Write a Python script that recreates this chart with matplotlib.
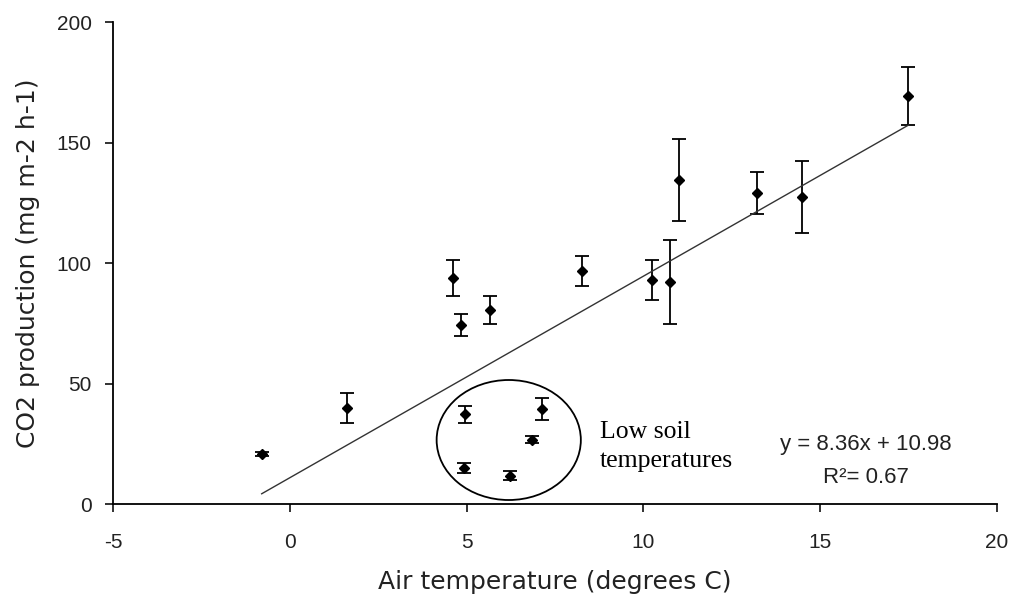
import numpy as np
import matplotlib
matplotlib.use('Agg')
import matplotlib.pyplot as plt
from matplotlib.patches import Ellipse

# Air temperature (degrees C), CO2 production and its error
air_temp = [-0.8, 1.6, 4.6, 4.85, 5.65, 8.25, 10.25, 10.75, 11.0, 13.2, 14.5, 17.5,
            4.95, 4.93, 6.23, 6.85, 7.12]
co2 = [20.8, 39.7, 93.8, 74.3, 80.5, 96.8, 92.9, 92.1, 134.4, 129.2, 127.3, 169.5,
       37.3, 15.1, 11.8, 26.8, 39.3]
co2_err = [1.0, 6.2, 7.4, 4.5, 5.8, 6.2, 8.2, 17.4, 17.0, 8.7, 15.0, 12.0,
           3.5, 2.0, 2.0, 1.4, 4.6]

# Fitted trend line
slope = 8.36
intercept = 10.98
fit_x = [-0.8, 17.5]

plt.rcParams['font.family'] = ['Liberation Sans', 'DejaVu Sans']
plt.rcParams['axes.unicode_minus'] = False

fig = plt.figure(figsize=(10.11, 5.98), dpi=100)
ax = fig.add_axes([0.112, 0.157, 0.874, 0.806])

ax.errorbar(air_temp, co2, yerr=co2_err, fmt='D', color='black', markersize=5,
            ecolor='black', elinewidth=1.3, capsize=4.7, capthick=1.3)

fx = np.array(fit_x)
ax.plot(fx, slope * fx + intercept, color='#333333', linewidth=1)

ax.add_patch(Ellipse((6.19, 26.6), 4.08, 49.8, fill=False, edgecolor='black', linewidth=1.3))

ax.text(8.78, 27.4, 'Low soil', family=['Liberation Serif'], fontsize=18.5,
        ha='left', va='baseline')
ax.text(8.78, 15.3, 'temperatures', family=['Liberation Serif'], fontsize=18.5,
        ha='left', va='baseline')
ax.text(16.3, 22.4, 'y = 8.36x + 10.98', fontsize=16, ha='center', va='baseline', color='#222222')
ax.text(16.3, 8.6, 'R\u00b2= 0.67', fontsize=16, ha='center', va='baseline', color='#222222')

ax.set_xlim(-5, 20)
ax.set_ylim(0, 200)
ax.set_xticks([-5, 0, 5, 10, 15, 20])
ax.set_yticks([0, 50, 100, 150, 200])
ax.spines['top'].set_visible(False)
ax.spines['right'].set_visible(False)
ax.spines['left'].set_linewidth(1.3)
ax.spines['bottom'].set_linewidth(1.3)
ax.tick_params(direction='out', length=5.5, width=1.3, labelsize=15, colors='#222222')
ax.tick_params(axis='x', pad=15)
ax.tick_params(axis='y', pad=10)

ax.set_xlabel('Air temperature (degrees C)', family=['DejaVu Sans'], fontsize=18,
              color='#222222', labelpad=13)
ax.set_ylabel('CO2 production (mg m-2 h-1)', family=['DejaVu Sans'], fontsize=18,
              color='#222222', labelpad=12)

fig.savefig('out.png', dpi=100)
